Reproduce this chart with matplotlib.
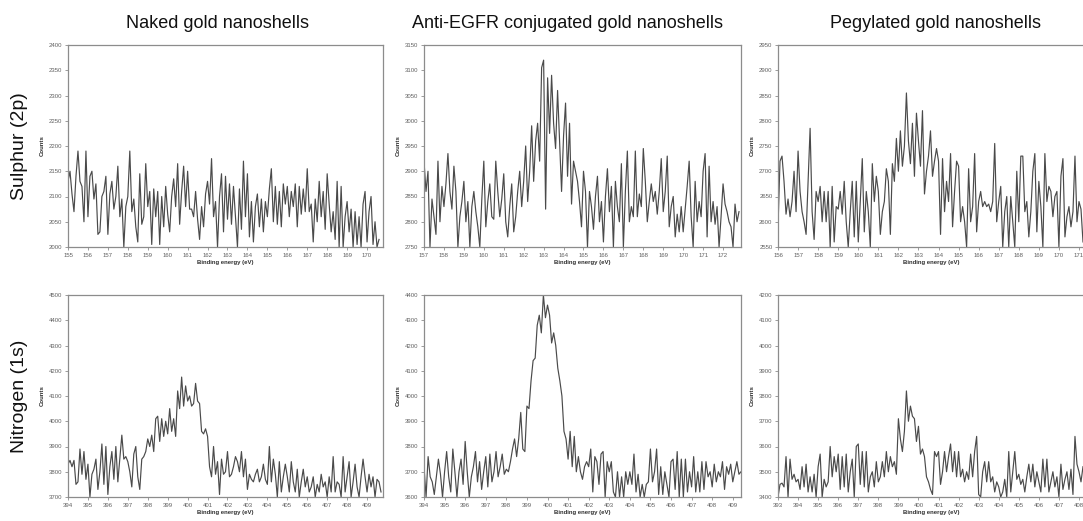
import numpy as np
import matplotlib
matplotlib.use("Agg")
import matplotlib.pyplot as plt

plt.rcParams['font.family'] = ['Liberation Sans', 'DejaVu Sans']

STEP = 0.1  # eV, acquisition step

column_titles = ["Naked gold nanoshells",
                 "Anti-EGFR conjugated gold nanoshells",
                 "Pegylated gold nanoshells"]
row_titles = ["Sulphur (2p)", "Nitrogen (1s)"]

# ---- Sulphur 2p spectra -------------------------------------------------
s_naked_start = 155.0
s_naked = [
    2130, 2150, 2105, 2070, 2140, 2190, 2130, 2120, 2050, 2190,
    2060, 2140, 2150, 2095, 2125, 2025, 2030, 2100, 2110, 2140,
    2025, 2105, 2130, 2075, 2100, 2160, 2060, 2095, 2000, 2080,
    2100, 2190, 2070, 2095, 2040, 2010, 2145, 2045, 2060, 2165,
    2080, 2110, 2005, 2115, 2060, 2110, 2005, 2100, 2040, 2120,
    2065, 2030, 2100, 2135, 2080, 2165, 2045, 2110, 2160, 2080,
    2150, 2075, 2075, 2060, 2110, 2055, 2015, 2080, 2040, 2105,
    2130, 2085, 2175, 2060, 2090, 2000, 2100, 2145, 2030, 2140,
    2055, 2125, 2045, 2120, 2060, 2000, 2115, 2035, 2170, 2060,
    2145, 2020, 2090, 2010, 2080, 2105, 2040, 2095, 2030, 2090,
    2060, 2115, 2155, 2050, 2120, 2045, 2110, 2040, 2125, 2085,
    2120, 2060, 2110, 2080, 2125, 2040, 2120, 2065, 2115, 2070,
    2155, 2070, 2085, 2010, 2095, 2050, 2130, 2060, 2110, 2035,
    2145, 2085, 2030, 2070, 2015, 2130, 2000, 2120, 2000, 2060,
    2090, 2030, 2075, 2000, 2070, 2005, 2060, 2000, 2085, 2110,
    2010, 2070, 2100, 2005, 2050, 2000, 2015,
]

s_egfr_start = 157.0
s_egfr = [
    2920, 2860, 2900, 2750, 2845, 2810, 2775, 2920, 2800, 2870,
    2830, 2875, 2935, 2860, 2825, 2910, 2860, 2750, 2810, 2840,
    2880, 2800, 2840, 2750, 2830, 2860, 2820, 2790, 2750, 2845,
    2920, 2790, 2840, 2875, 2810, 2805, 2920, 2860, 2810, 2845,
    2895, 2800, 2770, 2830, 2875, 2780, 2810, 2860, 2900, 2830,
    2880, 2950, 2840, 2900, 2990, 2880, 2960, 2995, 2920, 3105,
    3120, 2825, 3085, 2975, 3090, 2995, 2945, 3060, 2960, 2860,
    2970, 3035, 2890, 2995, 2835, 2920, 2900, 2880, 2840, 2790,
    2900, 2860, 2750, 2860, 2830, 2785, 2850, 2890, 2800, 2840,
    2760, 2850, 2905, 2820, 2870, 2750, 2880, 2830, 2800, 2915,
    2750, 2860, 2940, 2800, 2830, 2810, 2940, 2810, 2855, 2830,
    2945, 2880, 2800, 2840, 2875, 2840, 2860, 2815, 2860, 2925,
    2820, 2860, 2930, 2790, 2830, 2850, 2770, 2815, 2780, 2830,
    2780, 2825, 2870, 2920, 2810, 2750, 2880, 2800, 2840, 2810,
    2900, 2935, 2770, 2910, 2800, 2840, 2795, 2830, 2750, 2810,
    2875, 2835, 2820, 2800, 2790, 2750, 2835, 2800, 2820,
]

s_peg_start = 156.0
s_peg = [
    2590, 2720, 2730, 2680, 2615, 2645, 2610, 2640, 2700, 2620,
    2740, 2660, 2620, 2600, 2575, 2680, 2785, 2620, 2565, 2660,
    2640, 2670, 2600, 2660, 2600, 2660, 2550, 2670, 2560, 2630,
    2625, 2660, 2615, 2680, 2600, 2550, 2620, 2680, 2570, 2680,
    2560, 2640, 2725, 2580, 2660, 2620, 2550, 2715, 2640, 2690,
    2660, 2575, 2620, 2640, 2705, 2680, 2575, 2715, 2680, 2765,
    2700, 2780, 2710, 2750, 2855, 2760, 2715, 2795, 2690, 2815,
    2760, 2710, 2820, 2655, 2700, 2730, 2780, 2690, 2720, 2745,
    2720, 2575, 2725, 2620, 2680, 2640, 2735, 2590, 2660, 2720,
    2710, 2600, 2630, 2600, 2550, 2705, 2600, 2630, 2735, 2580,
    2640, 2660, 2630, 2640, 2630, 2635, 2620, 2640, 2755, 2600,
    2640, 2670, 2550, 2620, 2650, 2550, 2650, 2600, 2550, 2700,
    2600, 2730, 2730, 2620, 2640, 2570, 2620, 2700, 2735, 2580,
    2680, 2630, 2550, 2735, 2640, 2670, 2660, 2610, 2650, 2660,
    2550, 2690, 2725, 2570, 2610, 2630, 2590, 2620, 2730, 2600,
    2640, 2625, 2560,
]

# ---- Nitrogen 1s spectra ------------------------------------------------
n_naked_start = 394.0
n_naked = [
    3830, 3845, 3820, 3845, 3750, 3760, 3890, 3790, 3880, 3770,
    3830, 3700, 3790, 3810, 3850, 3730, 3800, 3910, 3750, 3900,
    3710, 3820, 3880, 3770, 3900, 3760, 3850, 3945, 3850, 3860,
    3840, 3800, 3740, 3870, 3900, 3780, 3730, 3850, 3860, 3880,
    3930, 3900, 3945, 3880, 4010, 4020, 3920, 4010, 3940, 4000,
    3950, 4050, 3960, 4010, 3940, 4120, 4050, 4175, 4060, 4140,
    4080, 4100, 4060, 4070, 4150, 4080, 4070, 3960, 3950, 3970,
    3940, 3820, 3780, 3900, 3790, 3840, 3710, 3850, 3790, 3800,
    3880, 3780, 3790, 3820, 3860, 3840, 3800, 3880, 3780, 3850,
    3730, 3790, 3770, 3760, 3790, 3810, 3760, 3780, 3830, 3770,
    3750, 3900, 3760, 3850, 3790, 3700, 3840, 3720, 3780, 3830,
    3780, 3720, 3840, 3760, 3720, 3810, 3700, 3760, 3810, 3740,
    3780, 3720, 3740, 3780, 3700, 3750, 3720, 3790, 3740, 3760,
    3700, 3780, 3720, 3860, 3720, 3760, 3750, 3700, 3860, 3720,
    3780, 3840, 3700, 3760, 3830, 3740, 3700, 3780, 3850, 3780,
    3720, 3790, 3740, 3780, 3700, 3770, 3760, 3720,
]

n_egfr_start = 394.0
n_egfr = [
    3720, 3600, 3760, 3680, 3660, 3610, 3680, 3750, 3690, 3600,
    3700, 3780, 3680, 3620, 3790, 3700, 3600, 3700, 3750, 3650,
    3820, 3700, 3600, 3680, 3720, 3780, 3660, 3740, 3630, 3700,
    3760, 3640, 3770, 3660, 3700, 3780, 3680, 3720, 3770, 3690,
    3710, 3700, 3740, 3790, 3830, 3760, 3830, 3935, 3790, 3780,
    3960, 3950, 4060, 4140, 4150, 4280, 4320, 4250, 4400, 4310,
    4360, 4320, 4210, 4250, 4200, 4110, 4060, 4000, 3860, 3830,
    3750, 3860, 3720, 3840, 3700, 3760, 3700, 3670, 3720, 3740,
    3720, 3790, 3620, 3760, 3740, 3650, 3770, 3780, 3600, 3740,
    3700, 3740, 3620, 3600, 3700, 3600, 3680, 3600, 3700, 3650,
    3700, 3650, 3770, 3620, 3690, 3600, 3650, 3600, 3650, 3660,
    3790, 3660, 3700, 3790, 3610, 3720, 3610, 3700, 3650, 3600,
    3740, 3750, 3630, 3780, 3600, 3750, 3600, 3750, 3620, 3700,
    3640, 3760, 3620, 3700, 3620, 3740, 3630, 3740, 3680, 3700,
    3640, 3730, 3660, 3700, 3680, 3740, 3630, 3720, 3690, 3730,
    3660, 3700, 3740, 3690, 3700,
]

n_peg_start = 393.0
n_peg = [
    3400, 3450, 3455, 3440, 3560, 3400, 3550, 3470, 3490, 3460,
    3470, 3430, 3520, 3440, 3530, 3420, 3480, 3420, 3490, 3400,
    3520, 3570, 3400, 3470, 3440, 3460, 3600, 3480, 3560, 3500,
    3570, 3430, 3560, 3440, 3570, 3420, 3500, 3550, 3400, 3600,
    3610, 3450, 3580, 3440, 3580, 3420, 3480, 3500, 3440, 3540,
    3460, 3480, 3540, 3480, 3580, 3500, 3560, 3520, 3540, 3490,
    3710, 3630, 3580, 3660, 3820, 3700, 3760, 3720, 3710, 3620,
    3680, 3570, 3590, 3560, 3480, 3460, 3430, 3410, 3580, 3560,
    3580, 3450, 3500, 3580, 3500, 3560, 3610, 3500, 3580, 3480,
    3580, 3480, 3510, 3460, 3500, 3470, 3570, 3480, 3580, 3640,
    3410, 3400, 3500, 3540, 3460, 3540, 3460, 3480, 3420, 3460,
    3440, 3400, 3420, 3470, 3400, 3580, 3420, 3500, 3580, 3470,
    3490, 3450, 3470, 3420, 3480, 3530, 3460, 3530, 3440, 3500,
    3460, 3420, 3550, 3440, 3550, 3420, 3460, 3500, 3440, 3480,
    3400, 3530, 3430, 3470, 3500, 3430, 3510, 3410, 3640, 3530,
    3500, 3460, 3520,
]

# Axis ranges (x limits in eV, y limits in counts, y tick step)
x_ranges = [[(155.0, 170.8), (157.0, 172.9), (156.0, 171.25)],
            [(394.0, 409.8), (394.0, 409.4), (393.0, 408.25)]]
y_ranges = [[(2000, 2400, 50), (2750, 3150, 50), (2550, 2950, 50)],
            [(3700, 4500, 100), (3600, 4400, 100), (3400, 4200, 100)]]

spectra = [[(s_naked_start, s_naked), (s_egfr_start, s_egfr), (s_peg_start, s_peg)],
           [(n_naked_start, n_naked), (n_egfr_start, n_egfr), (n_peg_start, n_peg)]]

# ---- Layout (pixels on a 1083 x 521 canvas) -----------------------------
W, H = 1083, 521
fig = plt.figure(figsize=(W / 100, H / 100), dpi=100)
fig.patch.set_facecolor("white")

col_px = [(68, 383), (424, 741), (778, 1084)]
row_px = [(45, 247), (295, 497)]
title_x = [218, 568, 935]

LINE = "#4a4a4a"
SPINE = "#8c8c8c"
TXT = "#606060"

for r in range(2):
    for c in range(3):
        x0, x1 = col_px[c]
        y0, y1 = row_px[r]
        ax = fig.add_axes([x0 / W, 1 - y1 / H, (x1 - x0) / W, (y1 - y0) / H])
        start, counts = spectra[r][c]
        counts = np.asarray(counts, dtype=float)
        energy = start + STEP * np.arange(len(counts))
        ax.plot(energy, counts, color=LINE, lw=0.85)

        xl = x_ranges[r][c]
        ylo, yhi, ystep = y_ranges[r][c]
        ax.set_xlim(*xl)
        ax.set_ylim(ylo, yhi)
        ax.set_xticks(np.arange(np.ceil(xl[0]), np.floor(xl[1]) + 0.5, 1))
        ax.set_yticks(np.arange(ylo, yhi + 1, ystep))
        ax.tick_params(axis="both", labelsize=4.3, labelcolor=TXT,
                       color=SPINE, length=2.5, width=0.6, pad=1.5,
                       direction="out")
        for s in ax.spines.values():
            s.set_color(SPINE)
            s.set_linewidth(0.9)
        ax.set_xlabel("Binding energy (eV)", fontsize=4.3, fontweight="bold",
                      color="#303030", labelpad=2)
        ax.set_ylabel("Counts", fontsize=4.3, fontweight="bold",
                      color="#303030", labelpad=3)

for c, t in enumerate(column_titles):
    fig.text(title_x[c] / W, 1 - 24 / H, t, ha="center", va="center",
             fontsize=13, color="#111111")

for r, t in enumerate(row_titles):
    yc = (row_px[r][0] + row_px[r][1]) / 2
    fig.text(20 / W, 1 - yc / H, t, ha="center", va="center",
             rotation=90, fontsize=14, color="#111111")

fig.savefig("out.png", dpi=100, facecolor="white")
